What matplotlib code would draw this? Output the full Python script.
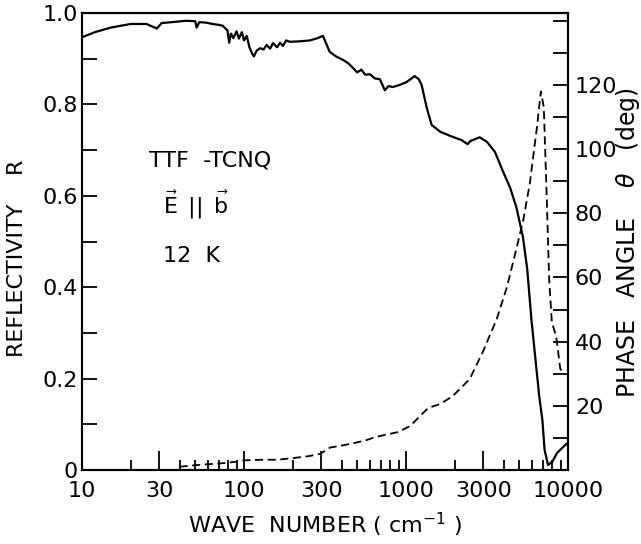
import matplotlib
matplotlib.use("Agg")
import matplotlib.pyplot as plt
from matplotlib.ticker import FixedLocator, FuncFormatter, NullFormatter

# Reflectivity R (solid)
r_wavenumber = [10, 12, 15, 20, 25, 29, 31, 36, 44, 50, 51, 53, 58, 64, 70, 74, 79, 81, 83, 86,
                90, 93, 97, 100, 104, 108, 112, 115, 120, 126, 132, 138, 145, 151, 160, 167, 174,
                182, 192, 220, 255, 285, 307, 320, 338, 370, 410, 440, 470, 500, 530, 560, 600,
                640, 690, 740, 780, 830, 920, 1010, 1130, 1200, 1250, 1340, 1440, 1630, 1940,
                2200, 2400, 2500, 2850, 3160, 3540, 3940, 4400, 4800, 5270, 5600, 5950, 6650,
                6950, 7170, 7530, 8000, 8550, 9300, 10000]
reflectivity = [0.947, 0.958, 0.968, 0.976, 0.976, 0.966, 0.978, 0.980, 0.983, 0.982, 0.968, 0.980,
                0.979, 0.976, 0.974, 0.972, 0.962, 0.935, 0.955, 0.945, 0.960, 0.944, 0.958, 0.940,
                0.950, 0.925, 0.912, 0.905, 0.918, 0.923, 0.920, 0.930, 0.922, 0.934, 0.925, 0.935,
                0.928, 0.940, 0.937, 0.938, 0.940, 0.945, 0.950, 0.935, 0.915, 0.905, 0.897, 0.890,
                0.880, 0.870, 0.876, 0.865, 0.866, 0.857, 0.855, 0.831, 0.840, 0.838, 0.843, 0.849,
                0.862, 0.855, 0.842, 0.794, 0.755, 0.740, 0.729, 0.722, 0.713, 0.720, 0.728, 0.718,
                0.696, 0.656, 0.617, 0.575, 0.510, 0.440, 0.328, 0.160, 0.109, 0.044, 0.011, 0.018,
                0.037, 0.050, 0.060]

# Phase angle theta (dashed)
p_wavenumber = [40, 50, 60, 70, 80, 90, 100, 130, 160, 200, 250, 295, 340, 390, 470, 570, 640, 720,
                890, 1060, 1220, 1370, 1630, 1940, 2470, 2980, 3630, 4200, 4860, 5300, 5800, 6440,
                6800, 7090, 7400, 7650, 7950, 8450, 8960, 9300]
phase = [1.0, 1.5, 1.8, 2.0, 2.3, 2.6, 3.0, 3.2, 3.2, 3.7, 4.3, 5.0, 7.0, 7.5, 8.3, 9.3, 10.2, 10.8,
         11.8, 13.7, 16.8, 19.3, 20.6, 23.0, 28.3, 36.8, 47.0, 57.0, 70.0, 78.0, 89.0, 107.0,
         118.0, 113.0, 84.0, 59.5, 46.0, 41.7, 31.5, 30.5]

x_major = [10, 30, 100, 300, 1000, 3000, 10000]
x_labels = ["10", "30", "100", "300", "1000", "3000", "10000"]
r_ticks = [0.0, 0.2, 0.4, 0.6, 0.8, 1.0]
p_ticks = [20, 40, 60, 80, 100, 120]

plt.rcParams['font.family'] = ['DejaVu Sans']
plt.rcParams['mathtext.fontset'] = 'dejavusans'
FS = 16

fig = plt.figure(figsize=(6.41, 5.44), dpi=100)
ax = fig.add_axes([82/641, 74/544, 486/641, 457/544])
ax2 = ax.twinx()

ax.plot(r_wavenumber, reflectivity, color='black', lw=1.6)
ax2.plot(p_wavenumber, phase, color='black', lw=1.3, linestyle=(0, (4.5, 2.5)))

ax.set_xscale('log')
ax.set_xlim(10, 10000)
ax.set_ylim(0, 1.0)
ax2.set_ylim(0, 142.4)

minor_x = [m * d for d in [10, 100, 1000] for m in range(2, 10) if m != 3]
ax.xaxis.set_major_locator(FixedLocator(x_major))
ax.xaxis.set_minor_locator(FixedLocator(minor_x))
ax.set_xticklabels(x_labels)
ax.xaxis.set_minor_formatter(NullFormatter())

ax.yaxis.set_major_locator(FixedLocator(r_ticks))
ax.yaxis.set_minor_locator(FixedLocator([0.1, 0.3, 0.5, 0.7, 0.9]))
ax.yaxis.set_major_formatter(FuncFormatter(lambda v, p: "0" if v == 0 else f"{v:.1f}"))

ax2.yaxis.set_major_locator(FixedLocator(p_ticks))
ax2.yaxis.set_minor_locator(FixedLocator([10, 30, 50, 70, 90, 110, 130, 140]))
ax2.yaxis.set_major_formatter(FuncFormatter(lambda v, p: f"{int(v)}"))

ax.tick_params(axis='x', which='major', direction='in', length=14, width=1.3, labelsize=FS, pad=8, top=False)
ax.tick_params(axis='x', which='minor', direction='in', length=7, width=1.3, top=False)
ax.tick_params(axis='y', which='both', direction='in', length=11, width=1.3, labelsize=FS, right=False, pad=3)
ax2.tick_params(axis='y', which='both', direction='in', length=11, width=1.3, labelsize=FS, pad=5)

for a in (ax, ax2):
    for s in a.spines.values():
        s.set_linewidth(1.5)

fig.text(325/641, 1 - 525/544, "WAVE  NUMBER ( cm$^{-1}$ )", fontsize=FS, ha='center', va='center')
fig.text(17/641, 1 - 258/544, "REFLECTIVITY    R", fontsize=FS, ha='center', va='center', rotation=90)
fig.text(628/641, 1 - 243/544, "PHASE   ANGLE    $\\theta$   (deg)", fontsize=17, ha='center', va='center', rotation=90)

fig.text(210/641, 1 - 160/544, "TTF  -TCNQ", fontsize=FS, ha='center', va='center')
fig.text(196/641, 1 - 205/544, "$\\vec{\\mathrm{E}}\\ \\,||\\,\\ \\vec{\\mathrm{b}}$", fontsize=FS, ha='center', va='center')
fig.text(192/641, 1 - 256/544, "12  K", fontsize=FS, ha='center', va='center')

fig.savefig("out.png", dpi=100)
